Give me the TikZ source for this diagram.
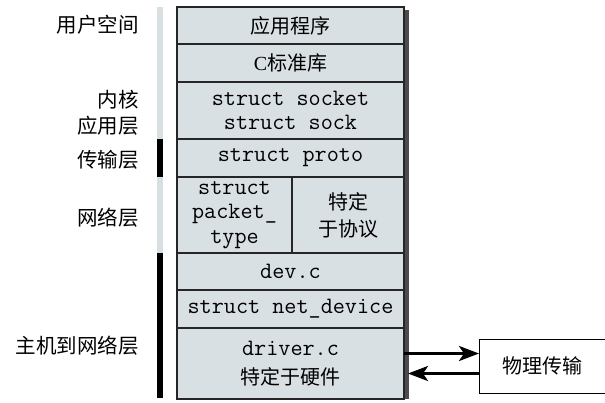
\documentclass[tikz,border=0pt]{standalone}
\usepackage{fontspec}
\setmainfont{Liberation Serif}
\newfontfamily\cjk{Noto Sans CJK SC}
\usetikzlibrary{positioning}
\usetikzlibrary{arrows.meta}
\definecolor{stackgray}{RGB}{217,224,228}

\begin{document}
\begin{tikzpicture}[x=1pt,y=-1pt,
  layer/.style={draw=black!85,fill=stackgray,line width=1.3pt,outer sep=0pt,inner sep=0pt,align=center,minimum width=227pt},
  side/.style={anchor=east,align=right,inner sep=0pt,font=\cjk\fontsize{20.5}{26}\selectfont},
  cn/.style={font=\cjk\fontsize{20}{27}\selectfont},
  code/.style={font=\ttfamily\fontsize{23.5}{24.5}\selectfont},
  link/.style={line width=3pt,-{Stealth[length=20pt,width=15pt,inset=5pt]}}]
\useasboundingbox (0,0) rectangle (605,402);
% side bars and shadow
\fill[stackgray] (157,7) rectangle (163,139);
\fill[black] (157,139) rectangle (163,177);
\fill[stackgray] (157,177) rectangle (163,253);
\fill[black] (157,253) rectangle (163,398);
\fill[black!70] (403,10) rectangle (409,399);

% the stack
\node (app) at (290.5,25.5) [layer,cn,minimum height=37pt] {应用程序};
\node (libc) [layer,cn,minimum height=38pt,below=0pt of app] {{\rmfamily C}标准库};
\node (sock) [layer,code,minimum height=57pt,below=0pt of libc] {struct socket\\struct sock};
\node (proto) [layer,code,minimum height=38pt,below=0pt of sock] {struct proto};
\node (ptype) [layer,code,minimum width=115pt,minimum height=76pt,below right=0pt and 0pt of proto.south west] {struct\\packet\_\\type};
\node (spec) [layer,cn,minimum width=112pt,minimum height=76pt,right=0pt of ptype] {特定\\于协议};
\node (dev) [layer,code,minimum height=37pt,below right=0pt and 0pt of ptype.south west] {dev.c};
\node (netdev) [layer,code,minimum height=38pt,below=0pt of dev] {struct net\_device};
\node (driver) [layer,minimum height=71pt,below=0pt of netdev,font=\fontsize{20}{29}\selectfont] {{\ttfamily\fontsize{23.5}{29}\selectfont driver.c}\\{\cjk 特定于硬件}};

% layer names
\node (user) at (139,25) [side] {用户空间};
\node (kapp) at (139,113) [side] {内核\\应用层};
\node (trans) at (139,160) [side] {传输层};
\node (net) at (139,218) [side] {网络层};
\node (host) at (139,346) [side] {主机到网络层};

% physical link
\node (phys) at (542,366) [cn,minimum width=126pt,minimum height=54pt,outer sep=0pt] {物理传输};
\draw[line width=1pt] (phys.north east) -- (phys.north west) -- (phys.south west) -- (phys.south east);
\coordinate (out) at ([yshift=10pt]driver.east);
\coordinate (in) at ([yshift=-10pt]driver.east);
\draw[link] (out) -- (out -| phys.west);
\draw[link] (in -| phys.west) -- ([xshift=4pt]in);
\end{tikzpicture}
\end{document}
